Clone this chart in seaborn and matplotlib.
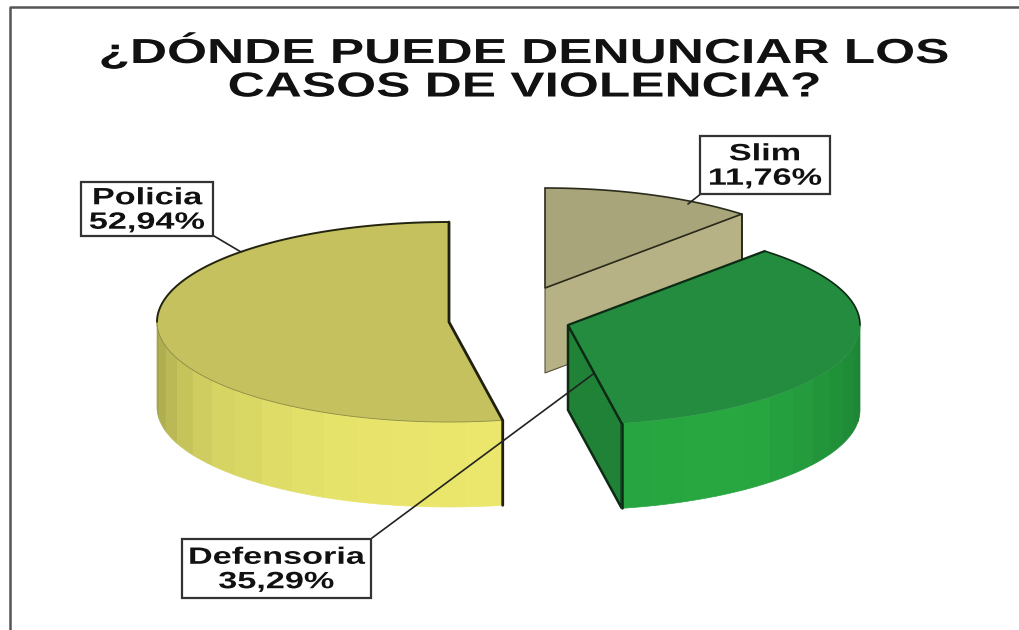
import itertools
import numpy as np
import matplotlib
matplotlib.use("Agg")
import matplotlib.pyplot as plt
import matplotlib.patheffects as pe
from matplotlib.patches import Polygon, Rectangle
from matplotlib.transforms import Affine2D
import seaborn as sns

# values
names = ["Policia", "Defensoria", "Slim"]
values = [52.94, 35.29, 11.76]
title = "¿DÓNDE PUEDE DENUNCIAR LOS\nCASOS DE VIOLENCIA?"

RX, RY, DEPTH = 292, 100, 85
order = itertools.count(1)   # painter's order, the slices overlap

class StretchX(pe.AbstractPathEffect):
    # the source picture is stretched sideways, stretch glyphs around the text centre
    def __init__(self, cx, wide):
        super().__init__()
        self.cx = cx
        self.wide = wide

    def draw_path(self, renderer, gc, tpath, affine, rgbFace=None):
        a = affine + Affine2D().translate(-self.cx, 0).scale(self.wide, 1).translate(self.cx, 0)
        renderer.draw_path(gc, tpath, a, rgbFace)

def rim(c, a1, a2, n=80):
    # points on the ellipse, angle clockwise from 12 o'clock
    t = np.radians(np.linspace(a1, a2, n))
    return np.column_stack([c[0] + RX*np.sin(t), c[1] - RY*np.cos(t)])

def line(ax, xs, ys, color, lw):
    ax.plot(xs, ys, color=color, lw=lw, zorder=next(order), solid_capstyle="round")

def poly(ax, pts, **kw):
    ax.add_patch(Polygon(pts, zorder=next(order), **kw))

def side(ax, c, a1, a2, colors):
    # faceted outer wall, a1 and a2 run counter clockwise
    edges = np.linspace(a1, a2, len(colors)+1)
    for i, col in enumerate(colors):
        p = rim(c, edges[i], edges[i+1], 8)
        q = p[::-1] + [0, DEPTH]
        poly(ax, np.vstack([p, q]), fc=col, ec=col, lw=0.5)

def label(ax, box, name, v):
    x0, y0, x1, y1 = box
    ax.add_patch(Rectangle((x0, y0), x1-x0, y1-y0, fc="white", ec="#333333", lw=1.6, zorder=500))
    cx, cy = (x0+x1)/2, (y0+y1)/2
    txt = ax.text(cx, cy+1, name + "\n" + f"{v:.2f}".replace(".", ",") + "%", ha="center", va="center",
                  fontsize=17, fontweight="bold", color="#111111", linespacing=1.08, zorder=501)
    txt.set_path_effects([StretchX(ax.transData.transform((cx, cy))[0], 1.45)])

sns.set_theme(style="white")
plt.rcParams["font.family"] = ["Liberation Sans", "DejaVu Sans"]

fig = plt.figure(figsize=(10.2, 6.3), dpi=100)
ax = fig.add_axes([0, 0, 1, 1])
ax.set_xlim(0, 1020)
ax.set_ylim(630, 0)
ax.axis("off")

# frame of the picture, only left and top show
line(ax, [10.5, 10.5, 1020], [630, 6.5, 6.5], "#555555", 1.8)

sweep = [360*v/sum(values) for v in values]
pol_end = -sweep[0]
def_end = pol_end - sweep[1]
c_pol, c_def, c_slim = (449, 322), (568, 325), (545, 288)

# Slim, at the back
p_end = rim(c_slim, 0, sweep[2])
tip = p_end[-1]
poly(ax, [c_slim, tip, tip + [0, DEPTH], np.array(c_slim) + [0, DEPTH]], fc="#b7b285", ec="#55523a", lw=0.8)
line(ax, [tip[0], tip[0]], [tip[1], tip[1]+DEPTH], "#2b2b1c", 1.4)
poly(ax, np.vstack([[c_slim], p_end]), fc="#a8a57a", ec="#2b2b1c", lw=1.2)

# Policia
side(ax, c_pol, -90, pol_end, sns.blend_palette(["#a4a54c", "#d3d161", "#e6e36a", "#ebe76d"], 14))
poly(ax, np.vstack([[c_pol], rim(c_pol, 0, pol_end)]), fc="#c5c15e", ec="none")
out = rim(c_pol, 0, -90)
line(ax, out[:, 0], out[:, 1], "#23240f", 1.4)
in_rim = rim(c_pol, -90, pol_end)
line(ax, in_rim[:, 0], in_rim[:, 1], "#8b8a45", 0.6)
e = rim(c_pol, pol_end, pol_end, 1)[0]
line(ax, [c_pol[0], c_pol[0], e[0], e[0]], [rim(c_pol, 0, 0, 1)[0][1], c_pol[1], e[1], e[1]+DEPTH], "#1f2010", 2)

# Defensoria
e = rim(c_def, pol_end, pol_end, 1)[0]
poly(ax, [c_def, e, e + [0, DEPTH], np.array(c_def) + [0, DEPTH]], fc="#1f8236", ec="#0d2b14", lw=1.8)
side(ax, c_def, pol_end, -270, sns.blend_palette(["#27a540", "#28a841", "#21933a", "#1c8434"], 12))
line(ax, [e[0], e[0]], [e[1], e[1]+DEPTH], "#0d2b14", 1.8)

# leader lines, the Defensoria one stops under the top of its slice
line(ax, [372, 600], [538, 369], "#222222", 1.2)
line(ax, [214, 241], [236, 252], "#222222", 1.2)
line(ax, [688, 702], [204, 193], "#222222", 1.2)

top_def = np.vstack([[c_def], rim(c_def, pol_end, def_end)])
poly(ax, top_def, fc="#238c3e", ec="none")
out = rim(c_def, -270, def_end)
line(ax, out[:, 0], out[:, 1], "#0d2b14", 1.2)
line(ax, [e[0], c_def[0], top_def[-1][0]], [e[1], c_def[1], top_def[-1][1]], "#0d2b14", 1.6)

label(ax, (81, 182, 213, 236), names[0], values[0])
label(ax, (182, 539, 371, 598), names[1], values[1])
label(ax, (700, 136, 830, 194), names[2], values[2])

t = ax.text(525, 68, title, ha="center", va="center", fontsize=25, fontweight="bold",
            color="#111111", linespacing=1.02, zorder=501)
t.set_path_effects([StretchX(ax.transData.transform((525, 68))[0], 1.48)])

fig.savefig("out.png", dpi=100)
